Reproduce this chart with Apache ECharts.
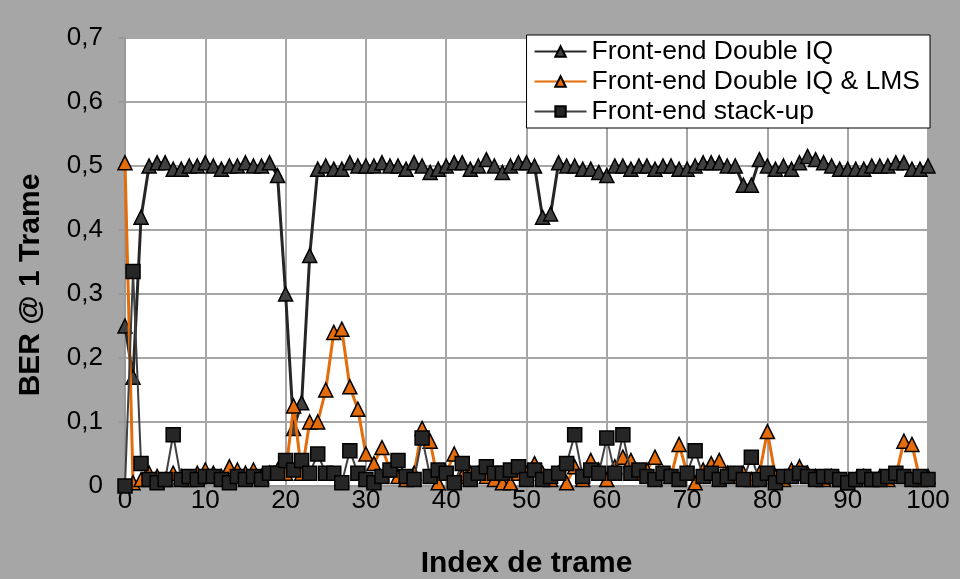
<!DOCTYPE html>
<html>
<head>
<meta charset="utf-8">
<script src="https://cdn.jsdelivr.net/npm/echarts@6/dist/echarts.min.js"></script>
<style>
  html, body { margin: 0; padding: 0; background: #a6a6a6; }
  #chart { width: 960px; height: 579px; }
</style>
</head>
<body>
<div id="chart"></div>
<script>
// BER per frame index, three front-end variants
const doubleIQ = [
  0.25, 0.17, 0.42, 0.50, 0.505, 0.505, 0.495, 0.495, 0.50, 0.50,
  0.505, 0.50, 0.495, 0.50, 0.50, 0.505, 0.50, 0.50, 0.505, 0.485,
  0.30, 0.09, 0.13, 0.36, 0.495, 0.50, 0.495, 0.495, 0.505, 0.50,
  0.50, 0.50, 0.505, 0.50, 0.50, 0.495, 0.505, 0.50, 0.49, 0.495,
  0.50, 0.505, 0.505, 0.495, 0.50, 0.51, 0.50, 0.49, 0.50, 0.505,
  0.505, 0.50, 0.42, 0.425, 0.505, 0.50, 0.50, 0.495, 0.495, 0.49,
  0.485, 0.50, 0.50, 0.495, 0.50, 0.50, 0.495, 0.50, 0.50, 0.495,
  0.495, 0.50, 0.505, 0.505, 0.505, 0.50, 0.50, 0.47, 0.47, 0.51,
  0.50, 0.495, 0.50, 0.495, 0.505, 0.515, 0.51, 0.505, 0.50, 0.495,
  0.495, 0.495, 0.495, 0.50, 0.50, 0.50, 0.505, 0.505, 0.495, 0.495,
  0.50
];
const doubleIQLms = [
  0.505, 0.005, 0.01, 0.02, 0.015, 0.01, 0.02, 0.015, 0.01, 0.02,
  0.025, 0.02, 0.015, 0.03, 0.025, 0.02, 0.025, 0.015, 0.02, 0.025,
  0.02, 0.125, 0.02, 0.10, 0.10, 0.15, 0.24, 0.245, 0.155, 0.12,
  0.05, 0.035, 0.06, 0.025, 0.015, 0.01, 0.02, 0.09, 0.07, 0.005,
  0.02, 0.05, 0.015, 0.02, 0.02, 0.015, 0.01, 0.005, 0.005, 0.02,
  0.02, 0.035, 0.02, 0.01, 0.02, 0.005, 0.03, 0.01, 0.04, 0.025,
  0.01, 0.03, 0.045, 0.04, 0.02, 0.025, 0.045, 0.02, 0.015, 0.065,
  0.02, 0.005, 0.025, 0.035, 0.04, 0.02, 0.015, 0.02, 0.01, 0.02,
  0.085, 0.015, 0.01, 0.025, 0.03, 0.02, 0.015, 0.01, 0.015, 0.01,
  0.005, 0.01, 0.015, 0.01, 0.015, 0.01, 0.015, 0.07, 0.065, 0.01,
  0.015
];
const stackUp = [
  0.0, 0.335, 0.035, 0.01, 0.005, 0.01, 0.08, 0.01, 0.015, 0.01,
  0.015, 0.015, 0.01, 0.005, 0.015, 0.01, 0.015, 0.01, 0.02, 0.02,
  0.04, 0.025, 0.04, 0.02, 0.05, 0.02, 0.02, 0.005, 0.055, 0.02,
  0.01, 0.005, 0.015, 0.025, 0.04, 0.015, 0.01, 0.075, 0.015, 0.025,
  0.02, 0.005, 0.035, 0.01, 0.02, 0.03, 0.02, 0.02, 0.025, 0.03,
  0.01, 0.025, 0.01, 0.015, 0.02, 0.035, 0.08, 0.015, 0.025, 0.02,
  0.075, 0.02, 0.08, 0.02, 0.025, 0.015, 0.01, 0.02, 0.015, 0.01,
  0.02, 0.055, 0.015, 0.02, 0.01, 0.015, 0.02, 0.01, 0.045, 0.01,
  0.02, 0.005, 0.015, 0.015, 0.02, 0.015, 0.01, 0.015, 0.015, 0.01,
  0.005, 0.01, 0.015, 0.01, 0.01, 0.015, 0.02, 0.015, 0.01, 0.015,
  0.01
];
const seriesNames = ['Front-end Double IQ', 'Front-end Double IQ & LMS', 'Front-end stack-up'];

const pairs = arr => arr.map((v, i) => [i, v]);
const font = 'Arial, "Liberation Sans", sans-serif';

const chart = echarts.init(document.getElementById('chart'));
chart.setOption({
  backgroundColor: '#a6a6a6',
  animation: false,
  grid: {
    left: 125, right: 32, top: 38, bottom: 93,
    outerBoundsMode: 'none',
    show: true, backgroundColor: '#ffffff', borderWidth: 0
  },
  legend: {
    orient: 'vertical',
    right: 30, top: 35,
    backgroundColor: '#ffffff',
    borderColor: '#000000', borderWidth: 1,
    padding: [3, 10, 3, 7],
    itemGap: 3,
    itemWidth: 52, itemHeight: 13,
    textStyle: { fontFamily: font, fontSize: 26.5, color: '#000' },
    data: seriesNames
  },
  xAxis: {
    type: 'value', min: 0, max: 100, interval: 10,
    name: 'Index de trame', nameLocation: 'middle', nameGap: 63,
    nameTextStyle: { fontFamily: font, fontSize: 30, fontWeight: 'bold', color: '#000' },
    axisLine: { show: true, lineStyle: { color: '#999', width: 2 } },
    axisTick: { show: true, length: 6, lineStyle: { color: '#999', width: 2 } },
    axisLabel: { fontFamily: font, fontSize: 26, color: '#000', margin: 2 },
    splitLine: { show: true, lineStyle: { color: '#a6a6a6', width: 2 } }
  },
  yAxis: {
    type: 'value', min: 0, max: 0.7, interval: 0.1,
    name: 'BER @ 1 Trame', nameLocation: 'middle', nameGap: 79,
    nameTextStyle: {
      fontFamily: font, fontSize: 30, fontWeight: 'bold', color: '#000',
      padding: [0, 46, 0, 0]
    },
    axisLine: { show: true, lineStyle: { color: '#999', width: 2 } },
    axisTick: { show: true, length: 6, lineStyle: { color: '#999', width: 2 } },
    axisLabel: {
      fontFamily: font, fontSize: 26, color: '#000', margin: 22,
      formatter: v => String(Math.round(v * 10) / 10).replace('.', ',')
    },
    splitLine: { show: true, lineStyle: { color: '#a6a6a6', width: 2 } }
  },
  series: [
    {
      name: seriesNames[0], type: 'line', data: pairs(doubleIQ),
      symbol: 'triangle', symbolSize: 14,
      lineStyle: { color: '#262626', width: 3 },
      itemStyle: { color: '#404040', borderColor: '#000', borderWidth: 1.5 },
      z: 2
    },
    {
      name: seriesNames[1], type: 'line', data: pairs(doubleIQLms),
      symbol: 'triangle', symbolSize: 14,
      lineStyle: { color: '#e46c0a', width: 3 },
      itemStyle: { color: '#e46c0a', borderColor: '#000', borderWidth: 1.5 },
      z: 3
    },
    {
      name: seriesNames[2], type: 'line', data: pairs(stackUp),
      symbol: 'rect', symbolSize: 14,
      lineStyle: { color: '#404040', width: 2 },
      itemStyle: { color: '#262626', borderColor: '#000', borderWidth: 1.5 },
      z: 4
    }
  ]
});
</script>
</body>
</html>
